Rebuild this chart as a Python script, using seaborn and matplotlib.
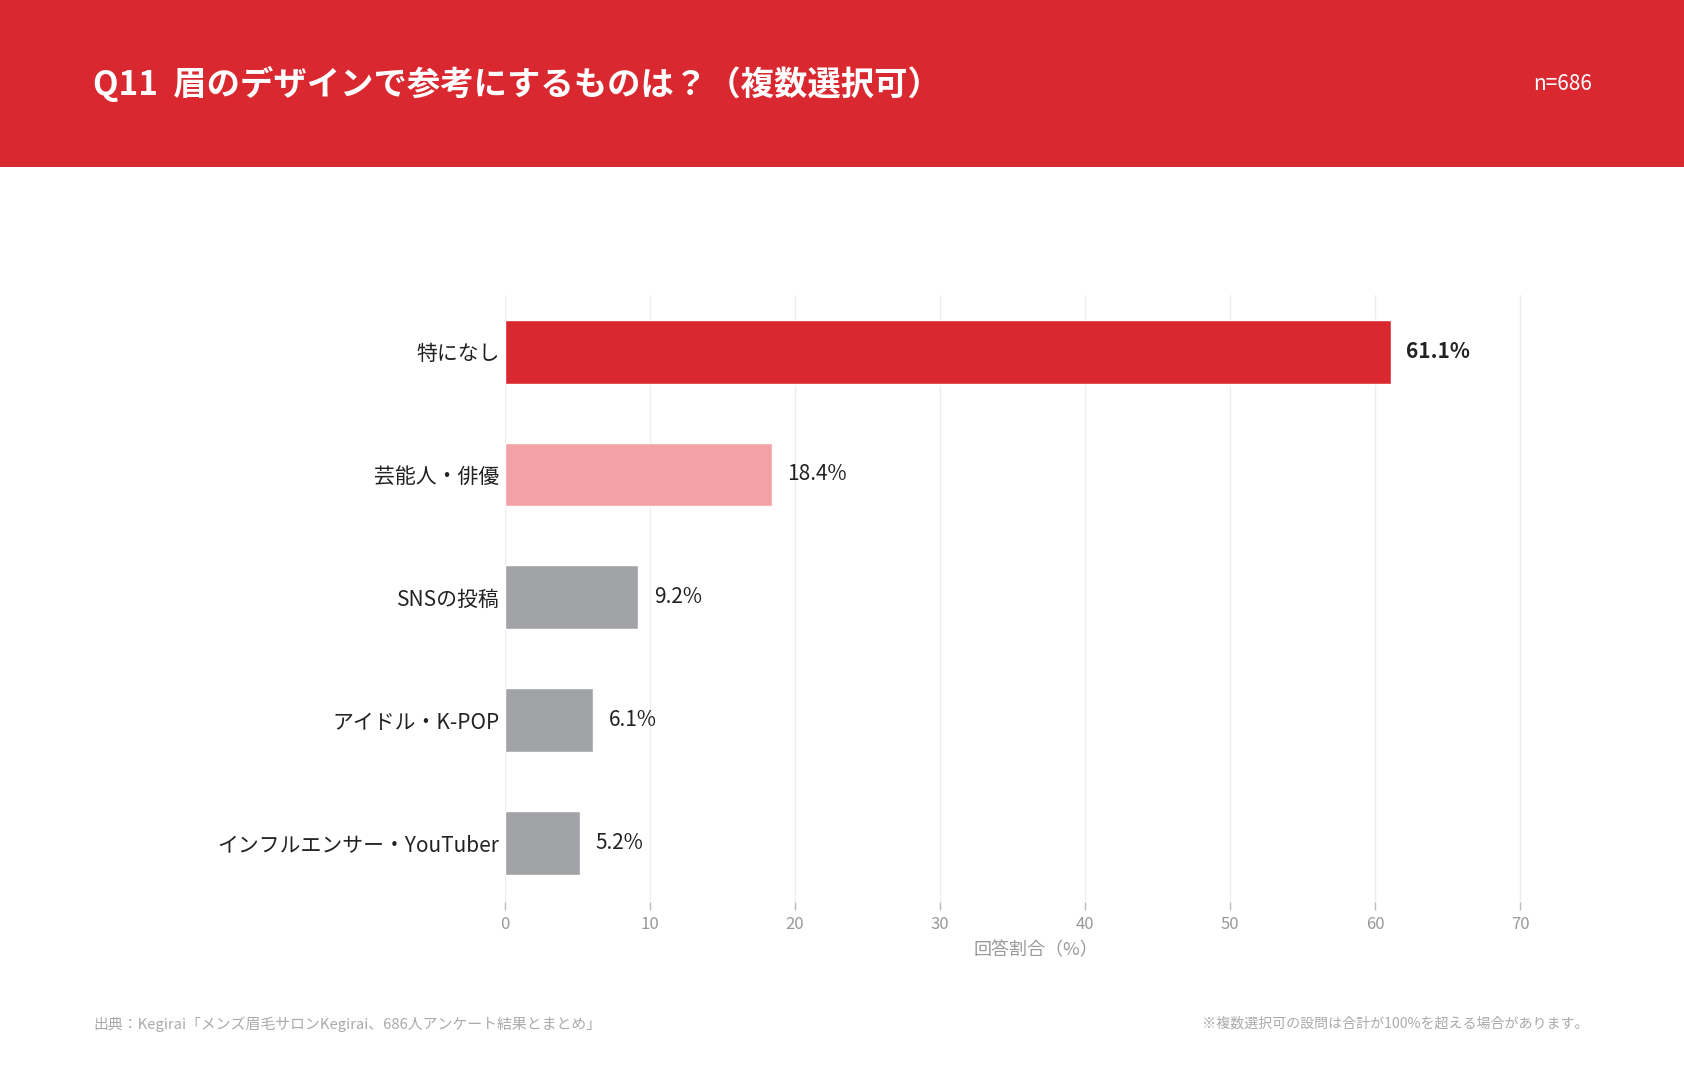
import numpy as np
import pandas as pd
import seaborn as sns
import matplotlib.pyplot as plt
from matplotlib.patches import Rectangle

# donnees
categories = ['特になし', '芸能人・俳優', 'SNSの投稿', 'アイドル・K-POP', 'インフルエンサー・YouTuber']
valeurs = [61.1, 18.4, 9.2, 6.1, 5.2]
couleurs = ['#D9282F', '#F2A2A5', '#A2A3A7', '#A2A3A7', '#A2A3A7']
ticks_x = [0, 10, 20, 30, 40, 50, 60, 70]

titre = 'Q11  眉のデザインで参考にするものは？（複数選択可）'
echantillon = 'n=686'
source = '出典：Kegirai「メンズ眉毛サロンKegirai、686人アンケート結果とまとめ」'
note = '※複数選択可の設問は合計が100%を超える場合があります。'

df = pd.DataFrame({'categorie': categories, 'valeur': valeurs})

sns.set_theme(style='white')
plt.rcParams['font.family'] = ['Noto Sans CJK JP', 'DejaVu Sans']

fig = plt.figure(figsize=(16.84, 10.89), dpi=100)
fig.patch.set_facecolor('white')

# bandeau rouge du titre
fig.add_artist(Rectangle((0, 0.847), 1, 0.153, transform=fig.transFigure,
                         facecolor='#D9282F', edgecolor='none', zorder=0))
fig.text(0.0555, 0.923, titre, color='white', fontsize=24, fontweight='bold',
         va='center', ha='left')
fig.text(0.9455, 0.923, echantillon, color='white', fontsize=15,
         va='center', ha='right')

ax = fig.add_axes([0.2999, 0.1717, 0.6243, 0.5573])
palette = dict(zip(categories, couleurs))
sns.barplot(data=df, x='valeur', y='categorie', hue='categorie', palette=palette,
            order=categories, legend=False, width=0.52, saturation=1, ax=ax)

ax.set_xlim(0, 72.5)
ax.set_ylim(4.48, -0.46)
ax.set_xticks(ticks_x)
ax.set_xticklabels([str(t) for t in ticks_x])
ax.grid(axis='x', color='#EEEEEE', linewidth=1)
ax.grid(axis='y', visible=False)
ax.set_axisbelow(True)
for s in ax.spines.values():
    s.set_visible(False)

ax.tick_params(axis='x', labelsize=12, length=6, width=1,
               direction='out', pad=4, bottom=True)
ax.tick_params(axis='x', labelcolor='#999999', color='#BBBBBB')
ax.tick_params(axis='y', labelsize=15, labelcolor='#222222', length=0, pad=4)
ax.set_ylabel('')
ax.set_xlabel('回答割合（%）', fontsize=13, color='#999999', labelpad=6)
ax.xaxis.label.set_x(0.505)

# etiquettes des valeurs
for i, v in enumerate(valeurs):
    ax.annotate(f'{v:.1f}%', xy=(v, i), xytext=(11, 0), textcoords='offset points',
                va='center', ha='left', fontsize=15, color='#222222',
                fontweight='bold' if i == 0 else 'normal')

# pied de page
fig.text(0.0555, 0.0597, source, color='#AAAAAA', fontsize=10.7, va='center', ha='left')
fig.text(0.9435, 0.0597, note, color='#AAAAAA', fontsize=10.1, va='center', ha='right')

fig.savefig('out.png', dpi=100)
